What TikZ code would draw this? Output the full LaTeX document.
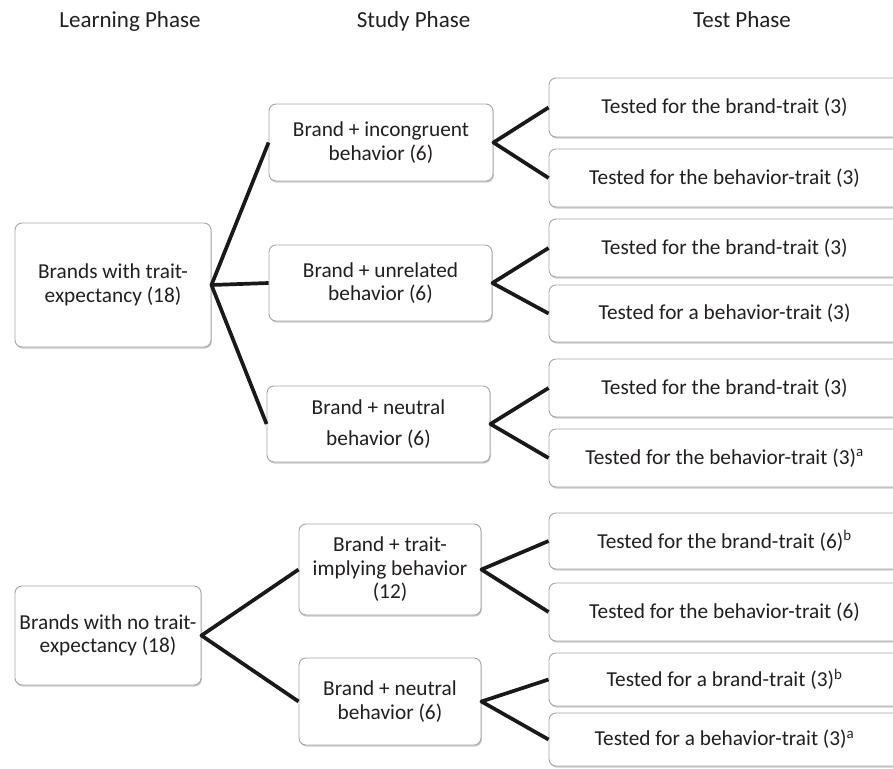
\documentclass[tikz,border=0pt]{standalone}
\usepackage{fontspec}
\setmainfont{Carlito}
\usetikzlibrary{shadows}
\definecolor{txt}{HTML}{231F20}
\definecolor{edgegray}{HTML}{A6A6A6}
\begin{document}
\begin{tikzpicture}[x=1pt,y=-1pt,
  box/.style={draw=edgegray, line width=0.9pt, fill=white, rounded corners=7pt,
    drop shadow={opacity=0.35, shadow xshift=0.8pt, shadow yshift=-1.6pt, fill=black!60},
    inner sep=0pt, align=center, text=txt, font=\fontsize{21.3}{23.5}\selectfont},
  testbox/.style={box, minimum width=351pt},
  link/.style={line width=3.7pt, draw=black!90, line join=round},
  head/.style={text=txt, font=\fontsize{23}{26}\selectfont, inner sep=0pt}]
\useasboundingbox (0,0) rectangle (893,768);
\clip (0,0) rectangle (893,768);

% headers
\node[head] (h1) at (130,21) {Learning Phase};
\node[head] (h2) at (413.5,21) {Study Phase};
\node[head] (h3) at (742,20) {Test Phase};

% learning phase
\node[box, minimum width=196pt, minimum height=124pt] (L1) at (113,285) {Brands with trait-\\expectancy (18)};
\node[box, minimum width=186pt, minimum height=99pt] (L2) at (108,635.5) {Brands with no trait-\\expectancy (18)};

% study phase
\node[box, minimum width=224pt, minimum height=77pt] (S1) at (381,142.5) {Brand + incongruent\\behavior (6)};
\node[box, minimum width=223pt, minimum height=76pt] (S2) at (380.5,283) {Brand + unrelated\\behavior (6)};
\node[box, minimum width=223pt, minimum height=76pt] (S3) at (378.5,424) {Brand + neutral\\[8pt]behavior (6)};
\node[box, minimum width=182pt, minimum height=91pt] (S4) at (390,569.5) {Brand + trait-\\implying behavior\\(12)};
\node[box, minimum width=182pt, minimum height=87pt] (S5) at (390,701.5) {Brand + neutral\\behavior (6)};

% test phase
\node[testbox, minimum height=59pt] (T1) at (724.5,107.5) {Tested for the brand-trait (3)};
\node[testbox, minimum height=58pt] (T2) at (724.5,178) {Tested for the behavior-trait (3)};
\node[testbox, minimum height=58pt] (T3) at (724.5,248) {Tested for the brand-trait (3)};
\node[testbox, minimum height=57pt] (T4) at (724.5,313.5) {Tested for a behavior-trait (3)};
\node[testbox, minimum height=58pt] (T5) at (724.5,388) {Tested for the brand-trait (3)};
\node[testbox, minimum height=58pt] (T6) at (724.5,458) {Tested for the behavior-trait (3)\textsuperscript{a}};
\node[testbox, minimum height=56pt] (T7) at (724.5,541) {Tested for the brand-trait (6)\textsuperscript{b}};
\node[testbox, minimum height=58pt] (T8) at (724.5,612) {Tested for the behavior-trait (6)};
\node[testbox, minimum height=53pt] (T9) at (724.5,679.5) {Tested for a brand-trait (3)\textsuperscript{b}};
\node[testbox, minimum height=53pt] (T10) at (724.5,739.5) {Tested for a behavior-trait (3)\textsuperscript{a}};

% connectors
\draw[link] (S1.west) -- (L1.east) -- (S3.west);
\draw[link] (L1.east) -- (S2.west);
\draw[link] (S4.west) -- (L2.east) -- (S5.west);
\draw[link] (T1.west) -- (S1.east) -- (T2.west);
\draw[link] (T3.west) -- (S2.east) -- (T4.west);
\draw[link] (T5.west) -- (S3.east) -- (T6.west);
\draw[link] (T7.west) -- (S4.east) -- (T8.west);
\draw[link] (T9.west) -- (S5.east) -- (T10.west);
\end{tikzpicture}
\end{document}
